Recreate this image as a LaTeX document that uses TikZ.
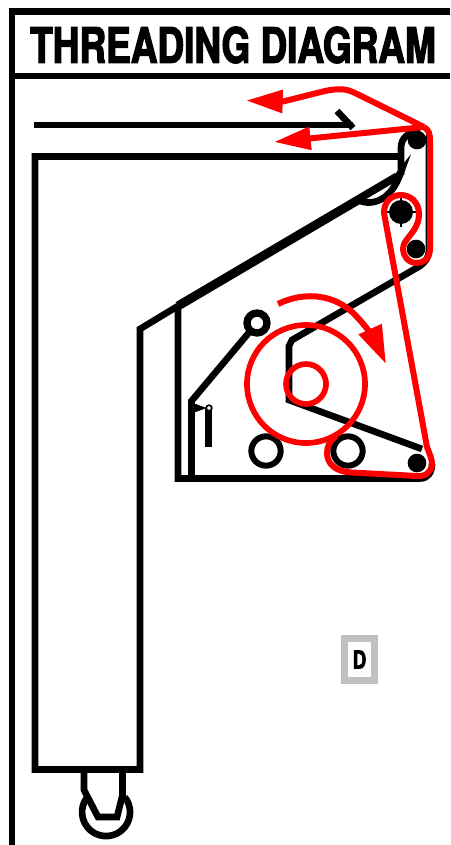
\documentclass[tikz,border=0pt]{standalone}
\usepackage{fontspec}
\usepackage{xcolor}
\usetikzlibrary{arrows.meta, positioning}
\newfontfamily\titlefont[FakeStretch=0.76,FakeBold=2.5]{TeX Gyre Heros}
\definecolor{threadred}{HTML}{FF0000}
\definecolor{labelgrey}{HTML}{C0C0C0}
\tikzset{
    diagram/.style={x=0.03cm, y=-0.03cm, line join=miter},
    frame line/.style={line width=0.2cm, black},
    thick line/.style={line width=0.27cm, black},
    thread/.style={line width=0.18cm, threadred, line join=round},
    thread arrow/.style={thread, -{Triangle[length=1.1cm, width=0.66cm]}},
    ring/.style={circle, draw, inner sep=0pt},
}

\begin{document}
\begin{tikzpicture}[
    diagram,
    roller/.style={ring, black, line width=0.18cm, minimum size=0.88cm},
    pin/.style={circle, fill=black, inner sep=0pt, minimum size=0.56cm},
    drum/.style={ring, threadred, line width=0.17cm},
    tag/.style={draw=labelgrey, fill=white, line width=0.21cm, inner sep=0pt,
        minimum width=0.9cm, minimum height=1.26cm}
  ]
    \useasboundingbox (0,0) rectangle (450,845);
    \node[font=\titlefont\fontsize{41.5}{41.5}\selectfont\bfseries, inner sep=0pt] (title) at (233,45) {THREADING DIAGRAM};

    \draw[frame line] (450,11.5) -- (12,11.5) -- (12,845);
    \draw[frame line] (12,76) -- (450,76);
    \draw[frame line] (34,125) -- (353,125);
    \draw[frame line] (337,111) -- (353,128);

    % cabinet outline
    \draw[frame line] (400,156.5) -- (35,156.5) -- (35,769.5) -- (140,769.5) -- (140,329) -- (178,306);
    \draw[thick line] (178,306) -- (397,177);
    \draw[frame line, fill=white] (358,200) .. controls (372,207) and (392,200) .. (401,172) -- (397,177) -- cycle;
    \draw[frame line] (401,175) -- (401,148) .. controls (401,138) and (408,132) .. (420,131);
    \draw[frame line] (178,306) -- (178,478.5) -- (420,478.5) .. controls (428,478.5) and (432,472) .. (432,464);
    \draw[frame line] (429,135) -- (429,250) .. controls (429,258) and (425,262) .. (420,266) -- (292,340) -- (289,346) -- (289,400) -- (422,449);

    % caster
    \draw[frame line] (84,770) -- (84,790) -- (98,817) -- (117,817) -- (122.5,795) -- (122.5,770);
    \draw[frame line] (87.4,797) arc[start angle=141, end angle=399, radius=0.72cm];

    % tension arm
    \draw[frame line] (191.5,478) -- (191.5,401) -- (257,323);
    \draw[frame line] (208.5,408) -- (208.5,447);
    \draw[fill=black] (192,403) -- (192,413) -- (206,408) -- cycle;
    \node[ring, line width=0.05cm, minimum size=0.17cm, fill=white] (armpivot) at (209,408) {};
    \node[ring, black, fill=white, line width=0.22cm, minimum size=0.6cm] (armpulley) at (257,323) {};

    \node[roller] (leftroller) at (266,451) {};
    \node[roller] (rightroller) at (348,451) {};
    \node[pin] (toppin) at (417,140) {};
    \node[pin] (lowerpin) at (416,249) {};
    \node[pin] (bottompin) at (417,463) {};
    \node[pin, minimum size=0.72cm] (midpin) at (401,212) {};
    \draw[line width=0.05cm] (401,197.5) -- (401,226.5);
    \draw[line width=0.05cm] (386.5,212) -- (415.5,212);

    % thread path
    \node[drum, minimum size=3.54cm] (bigdrum) at (306,384) {};
    \node[drum, minimum size=1.2cm] (smalldrum) at (306,384) {};
    \draw[thread] (424,127) .. controls (429,130) and (430,134) .. (430,141) -- (430,248)
        .. controls (430,258) and (424,263) .. (417,263) .. controls (408,263) and (403,256) .. (403,249)
        .. controls (403,238) and (419,232) .. (419,214) .. controls (419,202) and (410,195) .. (401,195)
        .. controls (391,195) and (384,202) .. (384,213) -- (427,447)
        .. controls (430,455) and (432,459) .. (432,464) .. controls (432,472) and (425,477) .. (417,476)
        -- (352,472.5) .. controls (336,472) and (327,464) .. (327,453) .. controls (327,446) and (330,441) .. (336,436);
    \draw[thread arrow] (424,127) -- (355,93) .. controls (347,89) and (340,88) .. (325,91) -- (283,101.5) -- (246,100.5);
    \draw[thread arrow] (424,127) -- (274,142);
    \draw[thread, -{Triangle[length=1.15cm, width=0.72cm]}] (278,304) .. controls (300,293) and (330,292) .. (352,312) .. controls (365,324) and (376,342) .. (386,364);

    \node[tag, font=\titlefont\fontsize{21}{21}\selectfont\bfseries] (doorlabel) at (359.5,659.5) {D};
  \end{tikzpicture}
\end{document}
